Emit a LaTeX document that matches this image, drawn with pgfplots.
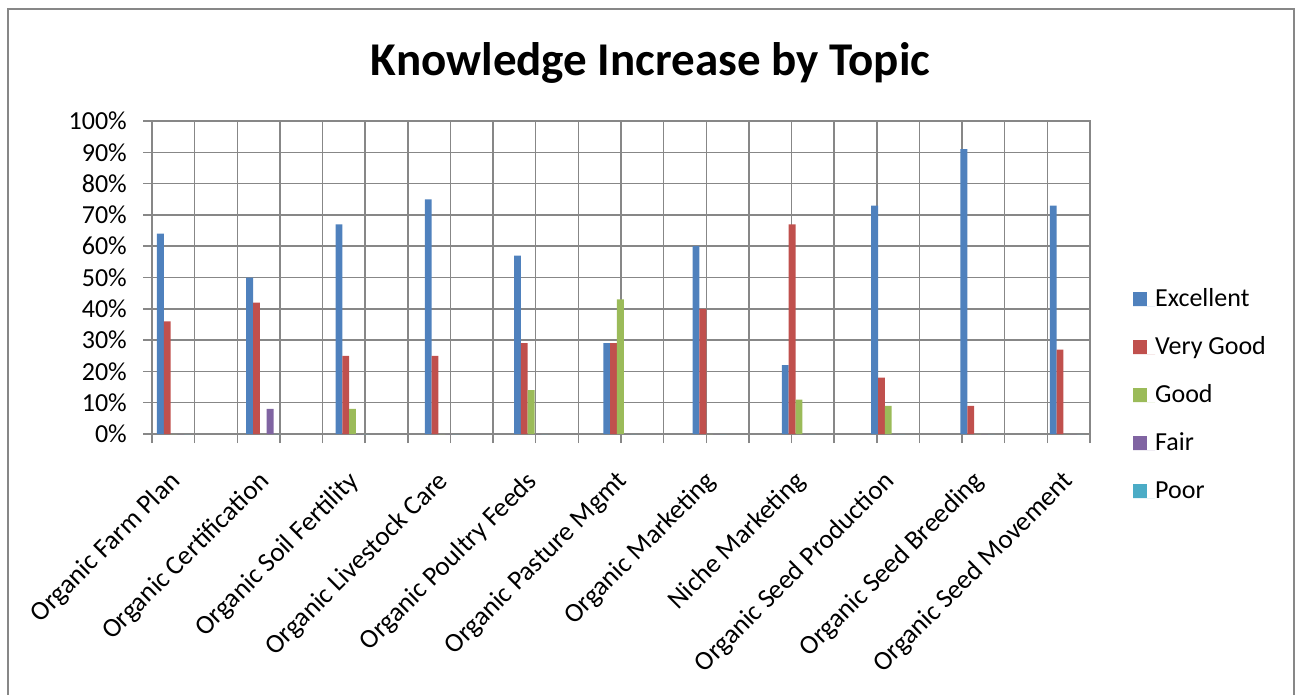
\documentclass[border=0pt]{standalone}
\usepackage{fontspec}
\setmainfont{Carlito}
\usepackage{pgfplots}
\pgfplotsset{compat=1.18}
\usepackage{pgfplotstable}
\definecolor{cE}{HTML}{4F81BD}
\definecolor{cVG}{HTML}{C0504D}
\definecolor{cG}{HTML}{9BBB59}
\definecolor{cF}{HTML}{8064A2}
\definecolor{cP}{HTML}{4BACC6}
\definecolor{gridgray}{HTML}{878787}
\pgfplotstableread{
x      E   VG  G   F  P
0.516  64  36  0   0  0
2.610  50  42  0   8  0
4.704  67  25  8   0  0
6.798  75  25  0   0  0
8.892  57  29  14  0  0
10.986 29  29  43  0  0
13.080 60  40  0   0  0
15.174 22  67  11  0  0
17.268 73  18  9   0  0
19.362 91  9   0   0  0
21.456 73  27  0   0  0
}\datatable
\newcommand\lblfont{\fontsize{26}{31}\selectfont}
\newcommand\catfont{\fontsize{27}{32}\selectfont}
\begin{document}
\begin{tikzpicture}
\useasboundingbox (0pt,0pt) rectangle (1296pt,-694pt);
\draw[gridgray, line width=2pt] (8pt,-720pt) -- (8pt,-9pt) -- (1294pt,-9pt) -- (1294pt,-720pt);
\node[font=\bfseries\fontsize{47}{56}\selectfont, anchor=base, inner sep=0pt] at (650.5pt,-75pt) {Knowledge Increase by Topic};
\begin{axis}[
  at={(152pt,-434pt)}, anchor=south west,
  width=938pt, height=313pt, scale only axis,
  xmin=0, xmax=22, ymin=0, ymax=100,
  ybar=0pt, bar width=0.16,
  xtick={0,1,...,22}, xticklabels={},
  ytick={0,10,...,100},
  yticklabel={\pgfmathprintnumber{\tick}\%},
  /pgf/number format/assume math mode=true,
  tick pos=left, tick align=outside, major tick length=9pt,
  grid=major,
  major grid style={draw=gridgray, line width=1.5pt},
  tick style={draw=gridgray, line width=1.5pt},
  axis line style={draw=gridgray, line width=1.5pt},
  yticklabel style={font=\lblfont, inner sep=0pt, anchor=east, xshift=-16pt},
  extra x ticks={0.516,2.610,4.704,6.798,8.892,10.986,13.080,15.174,17.268,19.362,21.456},
  extra x tick labels={Organic Farm Plan,Organic Certification,Organic Soil Fertility,Organic Livestock Care,Organic Poultry Feeds,Organic Pasture Mgmt,Organic Marketing,Niche Marketing,Organic Seed Production,Organic Seed Breeding,Organic Seed Movement},
  extra x tick style={grid=none, major tick length=0pt,
    xticklabel style={font=\catfont, inner sep=0pt, xshift=-6pt, yshift=-35pt, rotate=45, anchor=north east}},
  legend style={at={(axis description cs:1.0458,0.1214)}, anchor=west, draw=none, fill=none,
    inner sep=0pt, font=\lblfont, row sep=23pt,
    nodes={inner sep=0pt, text height=19pt, text depth=6pt, anchor=base west}},
  legend cell align=left,
  every axis plot post/.append style={draw=none,
    legend image code/.code={\fill[##1] (0pt,0.5pt) rectangle (14pt,14.5pt); \path (0pt,0pt) -- (22pt,0pt);}},
]
\addplot[fill=cE] table[x=x,y=E] {\datatable};
\addplot[fill=cVG] table[x=x,y=VG] {\datatable};
\addplot[fill=cG] table[x=x,y=G] {\datatable};
\addplot[fill=cF] table[x=x,y=F] {\datatable};
\addplot[fill=cP] table[x=x,y=P] {\datatable};
\legend{Excellent,Very Good,Good,Fair,Poor}
\end{axis}
\end{tikzpicture}
\end{document}
